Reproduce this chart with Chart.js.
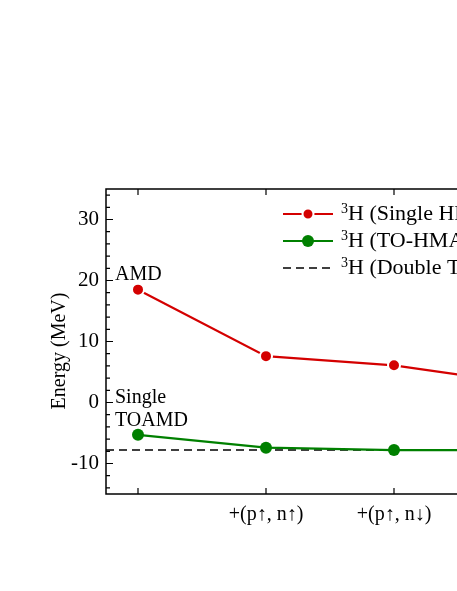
<!DOCTYPE html>
<html>
<head>
<meta charset="utf-8">
<script src="https://cdn.jsdelivr.net/npm/chart.js@4"></script>
<style>
  html, body { margin: 0; padding: 0; background: #fff; overflow: hidden; width: 457px; height: 591px; }
  canvas { display: block; }
</style>
</head>
<body>
<canvas id="energy-chart" width="600" height="591"></canvas>
<script>
// Data
const stepIndex = [1, 2, 3, 4];
const stepLabels = ['', '+(p\u2191, n\u2191)', '+(p\u2191, n\u2193)', '+(p\u2193, n\u2191)'];
const singleHmamd = [18.5, 7.6, 6.1, 3.1];   // red
const toHmamd = [-5.3, -7.4, -7.8, -7.8];    // green
const doubleToamd = -7.8;                    // dashed reference
const yMajorTicks = [-10, 0, 10, 20, 30];
const yMinorTicks = [-14, -12, -8, -6, -4, -2, 2, 4, 6, 8, 12, 14, 16, 18, 22, 24, 26, 28, 32, 34];
const legendNames = ['H (Single HMAMD)', 'H (TO-HMAMD)', 'H (Double TOAMD)'];

const X_MIN = 0.75, X_MAX = 4.25;
const SERIF = '"Liberation Serif", "Times New Roman", serif';
const RED = '#d40000';
const GREEN = '#008000';
const DASH = [8, 5];

function toPoints(values) {
  return values.map((v, i) => ({ x: stepIndex[i], y: v }));
}

// frame, inward ticks, annotations and legend
const decorations = {
  id: 'decorations',
  afterDraw(chart) {
    const ctx = chart.ctx;
    const area = chart.chartArea;
    const xs = chart.scales.x;
    const ys = chart.scales.y;
    ctx.save();
    ctx.strokeStyle = '#000';
    ctx.lineWidth = 1.5;
    ctx.strokeRect(area.left, area.top, area.right - area.left, area.bottom - area.top);

    ctx.lineWidth = 1.2;
    ctx.beginPath();
    yMajorTicks.forEach(v => {
      const y = ys.getPixelForValue(v);
      ctx.moveTo(area.left, y); ctx.lineTo(area.left + 7, y);
      ctx.moveTo(area.right, y); ctx.lineTo(area.right - 7, y);
    });
    yMinorTicks.forEach(v => {
      const y = ys.getPixelForValue(v);
      ctx.moveTo(area.left, y); ctx.lineTo(area.left + 4, y);
      ctx.moveTo(area.right, y); ctx.lineTo(area.right - 4, y);
    });
    stepIndex.forEach(v => {
      const x = xs.getPixelForValue(v);
      ctx.moveTo(x, area.bottom); ctx.lineTo(x, area.bottom - 6);
      ctx.moveTo(x, area.top); ctx.lineTo(x, area.top + 6);
    });
    ctx.stroke();

    // axis title
    ctx.fillStyle = '#000';
    ctx.font = '20px ' + SERIF;
    ctx.textAlign = 'center';
    ctx.textBaseline = 'middle';
    ctx.save();
    ctx.translate(60, 351);
    ctx.rotate(-Math.PI / 2);
    ctx.fillText('Energy (MeV)', 0, 0);
    ctx.restore();

    // annotations
    ctx.textAlign = 'left';
    ctx.textBaseline = 'alphabetic';
    ctx.font = '20px ' + SERIF;
    ctx.fillText('AMD', 115, 280);
    ctx.fillText('Single', 115, 403);
    ctx.fillText('TOAMD', 115, 426);

    // legend
    const rows = [
      { y: 214, color: RED, dash: [], marker: true, ring: true },
      { y: 241, color: GREEN, dash: [], marker: true, ring: false },
      { y: 268, color: '#000', dash: DASH, marker: false, ring: false }
    ];
    rows.forEach((r, i) => {
      ctx.strokeStyle = r.color;
      ctx.lineWidth = r.marker ? 2.2 : 1.5;
      ctx.setLineDash(r.dash);
      ctx.beginPath();
      ctx.moveTo(283, r.y); ctx.lineTo(333, r.y);
      ctx.stroke();
      ctx.setLineDash([]);
      if (r.marker) {
        ctx.beginPath();
        ctx.arc(308, r.y, r.ring ? 5.5 : 6, 0, Math.PI * 2);
        ctx.fillStyle = r.color;
        ctx.fill();
        if (r.ring) {
          ctx.strokeStyle = '#fff';
          ctx.lineWidth = 2;
          ctx.stroke();
        }
      }
      ctx.fillStyle = '#000';
      ctx.font = '14px ' + SERIF;
      ctx.fillText('3', 341, r.y - 1);
      ctx.font = '22px ' + SERIF;
      ctx.fillText(legendNames[i], 348, r.y + 6);
    });
    ctx.restore();
  }
};

const ctx = document.getElementById('energy-chart').getContext('2d');
const energyChart = new Chart(ctx, {
  type: 'line',
  data: {
    datasets: [
      {
        label: '3H (Single HMAMD)',
        data: toPoints(singleHmamd),
        borderColor: RED,
        backgroundColor: RED,
        borderWidth: 2.2,
        pointRadius: 6,
        pointBorderColor: '#fff',
        pointBorderWidth: 2,
        pointBackgroundColor: RED
      },
      {
        label: '3H (TO-HMAMD)',
        data: toPoints(toHmamd),
        borderColor: GREEN,
        backgroundColor: GREEN,
        borderWidth: 2.2,
        pointRadius: 6,
        pointBorderWidth: 0,
        pointBackgroundColor: GREEN
      },
      {
        label: '3H (Double TOAMD)',
        data: [{ x: X_MIN, y: doubleToamd }, { x: X_MAX, y: doubleToamd }],
        borderColor: '#000',
        borderWidth: 1.5,
        borderDash: DASH,
        pointRadius: 0
      }
    ]
  },
  options: {
    responsive: false,
    animation: false,
    devicePixelRatio: 1,
    layout: { padding: { top: 189, right: 46, left: 0, bottom: 0 } },
    plugins: {
      legend: { display: false },
      tooltip: { enabled: false }
    },
    scales: {
      x: {
        type: 'linear',
        min: X_MIN,
        max: X_MAX,
        afterFit(scale) { scale.height = 97; },
        afterBuildTicks(scale) { scale.ticks = stepIndex.map(v => ({ value: v })); },
        grid: { display: false, drawTicks: false },
        border: { display: false },
        ticks: {
          padding: 9,
          color: '#000',
          maxRotation: 0,
          autoSkip: false,
          font: { family: SERIF, size: 20 },
          callback: (v) => stepLabels[stepIndex.indexOf(v)] || ''
        }
      },
      y: {
        min: -15,
        max: 35,
        afterFit(scale) { scale.width = 106; },
        afterBuildTicks(scale) { scale.ticks = yMajorTicks.map(v => ({ value: v })); },
        grid: { display: false, drawTicks: false },
        border: { display: false },
        ticks: {
          padding: 7,
          color: '#000',
          font: { family: SERIF, size: 21 }
        }
      }
    }
  },
  plugins: [decorations]
});
</script>
</body>
</html>
